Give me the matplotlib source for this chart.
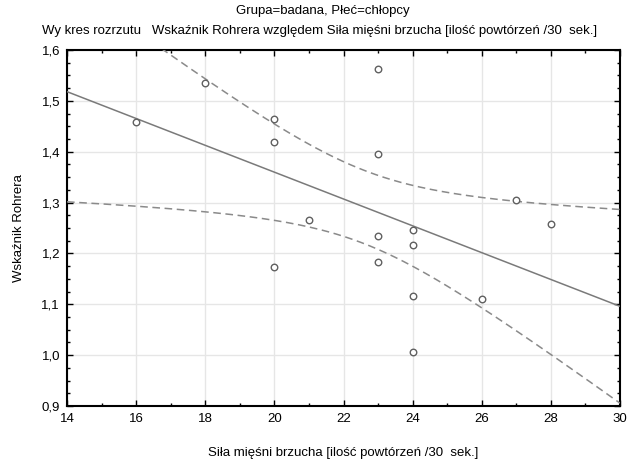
import numpy as np
import matplotlib

matplotlib.use("Agg")
import matplotlib.pyplot as plt
from matplotlib.ticker import FuncFormatter, MultipleLocator

plt.rcParams["font.family"] = ["Liberation Sans", "DejaVu Sans"]

# Siła mięśni brzucha vs Wskaźnik Rohrera (Grupa=badana, chłopcy)
sila = np.array([16, 18, 20, 20, 20, 21, 23, 23, 23, 23, 24, 24, 24, 24, 26, 27, 28])
rohrer = np.array([1.458, 1.536, 1.464, 1.419, 1.174, 1.266, 1.563, 1.396, 1.235,
                   1.184, 1.246, 1.217, 1.117, 1.007, 1.111, 1.305, 1.258])

# linear fit + 95% confidence band for the mean
n = len(sila)
b, a = np.polyfit(sila, rohrer, 1)
resid = rohrer - (a + b * sila)
s = np.sqrt(np.sum(resid ** 2) / (n - 2))
sxx = np.sum((sila - sila.mean()) ** 2)
t = 2.131  # t(0.975, 15)
xs = np.linspace(14, 30, 200)
fit = a + b * xs
half = t * s * np.sqrt(1 / n + (xs - sila.mean()) ** 2 / sxx)

fig = plt.figure(figsize=(6.37, 4.61), dpi=100)
ax = fig.add_axes([67 / 637, 1 - 406 / 461, 553 / 637, 356 / 461])

ax.plot(xs, fit, color="#7a7a7a", lw=1.1, zorder=3)
ax.plot(xs, fit + half, color="#8a8a8a", lw=1.1, ls=(0, (5, 3)), zorder=3)
ax.plot(xs, fit - half, color="#8a8a8a", lw=1.1, ls=(0, (5, 3)), zorder=3)
ax.scatter(sila, rohrer, s=22, facecolors="white", edgecolors="#606060",
           linewidths=1.0, zorder=4)

ax.set_xlim(14, 30)
ax.set_ylim(0.9, 1.6)
ax.xaxis.set_major_locator(MultipleLocator(2))
ax.xaxis.set_minor_locator(MultipleLocator(1))
ax.yaxis.set_major_locator(MultipleLocator(0.1))
ax.yaxis.set_minor_locator(MultipleLocator(0.025))
ax.yaxis.set_major_formatter(FuncFormatter(lambda v, p: f"{v:.1f}".replace(".", ",")))
ax.grid(True, which="major", color="#e6e6e6", lw=1.0, zorder=0)
ax.tick_params(which="both", direction="in", top=True, right=True,
               labelsize=9.5, colors="black", pad=5)
ax.tick_params(which="major", length=4, width=1.0)
ax.tick_params(which="minor", length=2.5, width=1.0)
for sp in ax.spines.values():
    sp.set_linewidth(1.5)
    sp.set_color("black")

fig.text(323 / 637, 1 - 11 / 461, "Grupa=badana, Płeć=chłopcy",
         ha="center", va="center", fontsize=9.5)
fig.text(320 / 637, 1 - 31 / 461,
         "Wy kres rozrzutu   Wskaźnik Rohrera względem Siła mięśni brzucha [ilość powtórzeń /30  sek.]",
         ha="center", va="center", fontsize=9.5)
ax.set_xlabel("Siła mięśni brzucha [ilość powtórzeń /30  sek.]", fontsize=9.5, labelpad=16)
ax.set_ylabel("Wskaźnik Rohrera", fontsize=9.5, labelpad=12)

fig.savefig("out.png", dpi=100)
